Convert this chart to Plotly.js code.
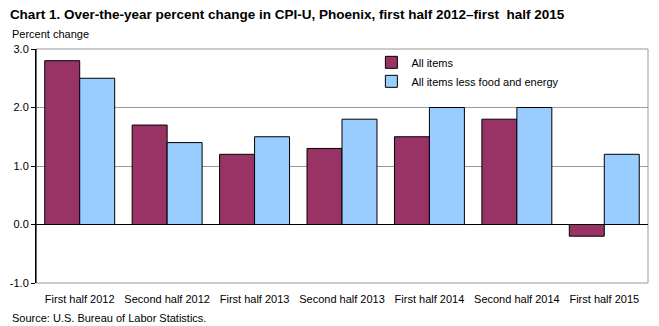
<!DOCTYPE html>
<html><head><meta charset="utf-8">
<script src="https://cdn.plot.ly/plotly-3.0.1.min.js"></script>
<style>body{margin:0;background:#fff}#c{width:659px;height:326px}</style>
</head><body><div id="c"></div>
<script>
const categories = ["First half 2012","Second half 2012","First half 2013","Second half 2013","First half 2014","Second half 2014","First half 2015"];
const allItems = [2.8, 1.7, 1.2, 1.3, 1.5, 1.8, -0.2];
const coreItems = [2.5, 1.4, 1.5, 1.8, 2.0, 2.0, 1.2];
const seriesNames = ["All items", "All items less food and energy"];
const yTicks = [-1, 0, 1, 2, 3];
const yTickText = ["-1.0", "0.0", "1.0", "2.0", "3.0"];

const font = "Liberation Sans, Arial, sans-serif";
const data = [
  {type:"bar", x:categories, y:allItems, name:seriesNames[0],
   marker:{color:"#993366", line:{color:"#000", width:1}}},
  {type:"bar", x:categories, y:coreItems, name:seriesNames[1],
   marker:{color:"#99CCFF", line:{color:"#000", width:1}}}
];
const layout = {
  width:659, height:326,
  margin:{l:36, r:11, t:49, b:43},
  paper_bgcolor:"#fff", plot_bgcolor:"#fff",
  font:{family:font, size:11, color:"#000"},
  barmode:"group", bargap:0.2, bargroupgap:0,
  showlegend:true,
  legend:{x:0.548, y:1.005, xanchor:"left", yanchor:"top", bgcolor:"rgba(0,0,0,0)",
          font:{family:font, size:11}, itemwidth:30, tracegroupgap:4},
  title:{text:"<b>Chart 1. Over-the-year percent change in CPI-U, Phoenix, first half 2012–first  half 2015</b>",
         x:0.015, xanchor:"left", y:0.955, yanchor:"middle", font:{family:font, size:13.5}},
  xaxis:{type:"category", showline:false, ticks:"outside", ticklen:6, tickcolor:"rgba(0,0,0,0)",
         tickfont:{size:11}, automargin:false, showgrid:false},
  yaxis:{range:[-1,3], tickvals:yTicks, ticktext:yTickText, showgrid:true, gridcolor:"#999",
         gridwidth:1, zeroline:true, zerolinecolor:"#000", zerolinewidth:1.3,
         showline:true, linecolor:"#000", linewidth:1, ticks:"outside", ticklen:4, tickcolor:"#000",
         automargin:false},
  shapes:[
    {type:"rect", xref:"paper", yref:"paper", x0:0, x1:1, y0:0, y1:1, line:{color:"#999", width:1}, layer:"below"},
    {type:"line", xref:"paper", yref:"paper", x0:0, x1:0, y0:0, y1:1, line:{color:"#000", width:1}}
  ],
  annotations:[
    {text:"Percent change", xref:"paper", yref:"paper", x:-0.043, y:1.064, xanchor:"left", yanchor:"middle",
     showarrow:false, font:{family:font, size:11}},
    {text:"Source: U.S. Bureau of Labor Statistics.", xref:"paper", yref:"paper", x:-0.043, y:-0.15,
     xanchor:"left", yanchor:"middle", showarrow:false, font:{family:font, size:11}}
  ]
};
Plotly.newPlot("c", data, layout, {displayModeBar:false, staticPlot:true});
</script></body></html>
